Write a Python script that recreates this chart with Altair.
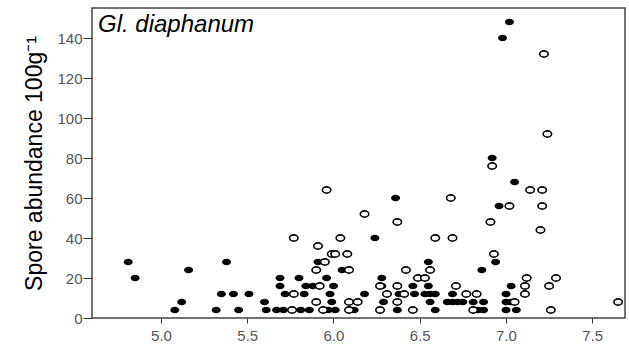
import altair as alt
import pandas as pd

# Filled (black) markers
filled_x = [4.81, 4.85, 5.08, 5.12, 5.16, 5.32, 5.35, 5.38, 5.42, 5.45, 5.51,
            5.60, 5.61, 5.67, 5.69, 5.69, 5.71, 5.72, 5.80, 5.81, 5.83, 5.84,
            5.86, 5.88, 5.91, 5.96, 5.97, 5.98, 5.99, 6.00, 6.01, 6.05, 6.12,
            6.18, 6.24, 6.28, 6.28, 6.29, 6.36, 6.37, 6.38, 6.46, 6.47, 6.55,
            6.55, 6.53, 6.56, 6.59, 6.56, 6.59, 6.66, 6.69, 6.72, 6.75, 6.69,
            6.81, 6.87, 6.84, 6.87, 6.86, 6.92, 6.94, 6.96, 6.98, 7.00, 7.00,
            7.00, 7.03, 7.03, 7.02, 7.05, 7.06]
filled_y = [28, 20, 4, 8, 24, 4, 12, 28, 12, 4, 12,
            8, 4, 4, 20, 16, 4, 12, 20, 4, 12, 16,
            4, 16, 28, 20, 4, 12, 8, 16, 4, 24, 4,
            12, 40, 20, 16, 8, 60, 4, 12, 16, 12, 28,
            16, 12, 12, 12, 8, 4, 8, 8, 8, 8, 12,
            8, 8, 4, 4, 24, 80, 28, 56, 140, 12, 8,
            4, 16, 8, 148, 68, 4]

# Open (white) markers
open_x = [5.76, 5.77, 5.77, 5.90, 5.90, 5.91, 5.92, 5.94, 5.95, 5.96,
          5.99, 6.01, 6.08, 6.04, 6.09, 6.09, 6.14, 6.09, 6.18,
          6.27, 6.27, 6.31, 6.37, 6.37, 6.37, 6.41, 6.42, 6.46,
          6.49, 6.53, 6.56, 6.59, 6.69, 6.68, 6.71, 6.77, 6.83, 6.81,
          6.91, 6.92, 6.93, 7.02, 7.05, 7.11, 7.11, 7.12, 7.14, 7.21,
          7.20, 7.21, 7.22, 7.24, 7.25, 7.26, 7.29, 7.65]
open_y = [4, 40, 12, 8, 24, 36, 16, 4, 28, 64,
          32, 32, 32, 40, 24, 8, 8, 4, 52,
          16, 4, 12, 48, 16, 8, 12, 24, 4,
          20, 20, 24, 40, 40, 60, 16, 12, 12, 4,
          48, 76, 32, 56, 8, 16, 12, 20, 64, 64,
          44, 56, 132, 92, 16, 4, 20, 8]

x_ticks = [5.0, 5.5, 6.0, 6.5, 7.0, 7.5]
y_ticks = [0, 20, 40, 60, 80, 100, 120, 140]

title_text = "Gl. diaphanum"
y_title = "Spore abundance 100g\u207b\u00b9"

ellipse = "M-1,0 A1,0.74 0 1,0 1,0 A1,0.74 0 1,0 -1,0 Z"

df_f = pd.DataFrame({"pH": filled_x, "spores": filled_y})
df_o = pd.DataFrame({"pH": open_x, "spores": open_y})
df_t = pd.DataFrame({"label": [title_text]})

font = "Liberation Sans"

x_enc = alt.X("pH:Q",
              scale=alt.Scale(domain=[4.6, 7.69], nice=False, zero=False),
              axis=alt.Axis(values=x_ticks, format=".1f", title=None, grid=False,
                            domain=False, tickSize=5, tickColor="#333",
                            labelPadding=5, labelFontSize=15, labelColor="#555",
                            labelFont=font))
y_enc = alt.Y("spores:Q",
              scale=alt.Scale(domain=[0, 155], nice=False),
              axis=alt.Axis(values=y_ticks, title=y_title, grid=False,
                            domain=False, tickSize=9, tickColor="#333",
                            labelPadding=1, labelFontSize=15, labelColor="#555",
                            labelFont=font, titleFont=font, titleFontSize=23,
                            titleFontWeight="normal", titleColor="#000",
                            titlePadding=10))

filled = alt.Chart(df_f).mark_point(shape=ellipse, filled=True, size=82,
                                    color="#000", opacity=1).encode(x=x_enc, y=y_enc)
opened = alt.Chart(df_o).mark_point(shape=ellipse, filled=True, size=72,
                                    fill="#fff", stroke="#000", strokeWidth=1.6,
                                    opacity=1).encode(x=x_enc, y=y_enc)
title = alt.Chart(df_t).mark_text(align="left", baseline="alphabetic", font=font,
                                  fontSize=24, fontStyle="italic", color="#000").encode(
    x=alt.value(6), y=alt.value(24), text="label:N")

chart = alt.layer(filled, opened, title).properties(
    width=533, height=310,
    padding={"left": 92, "top": 8, "right": 4, "bottom": 29},
    autosize=alt.AutoSizeParams(type="none"),
    background="white",
).configure_view(stroke="#444", strokeWidth=1.5)

chart.save("out.html", embed_options={"renderer": "svg", "actions": False})
